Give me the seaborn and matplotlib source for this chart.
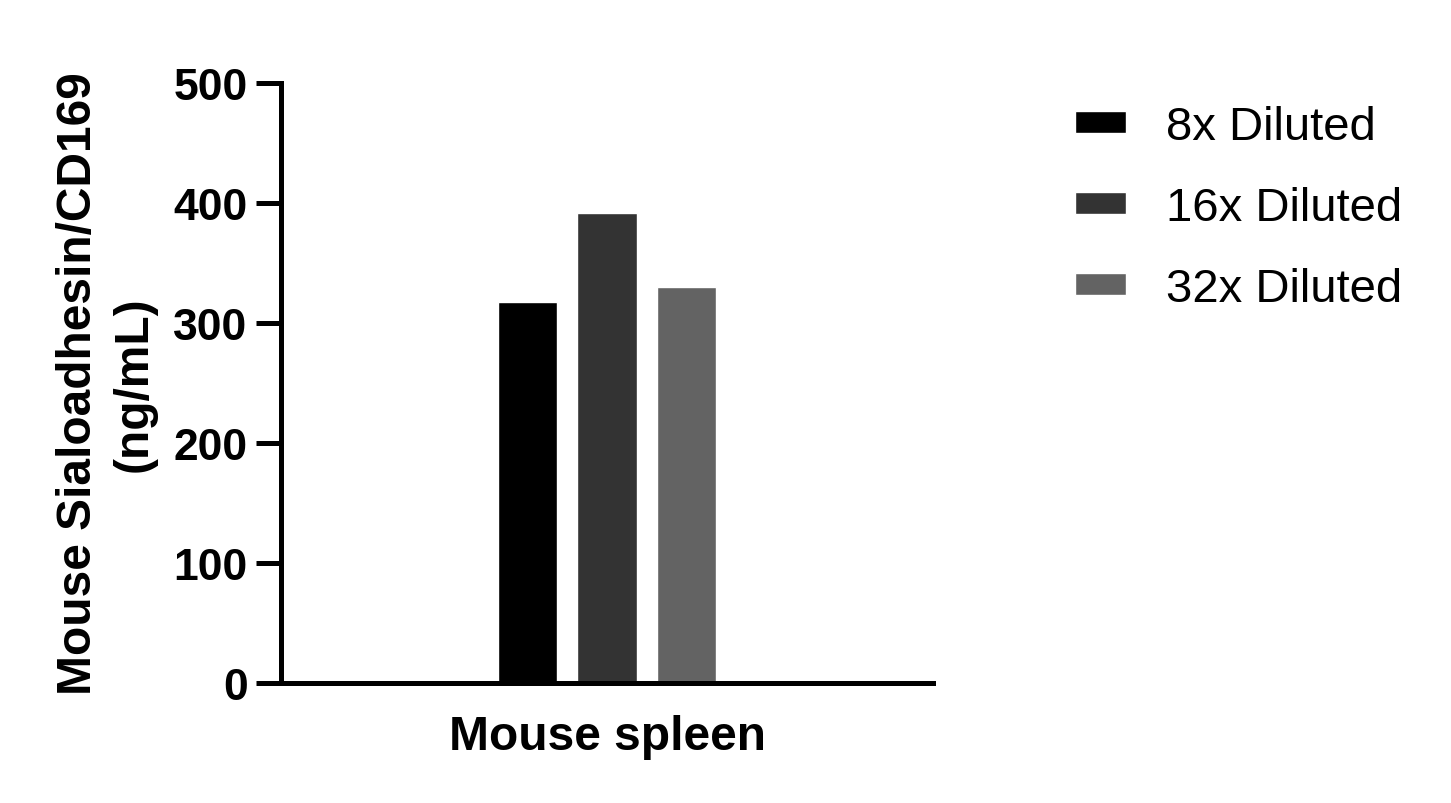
import matplotlib
matplotlib.use("Agg")
import matplotlib.pyplot as plt
import pandas as pd
import seaborn as sns

sns.set_theme(style="ticks")
plt.rcParams["font.family"] = ["Liberation Sans", "DejaVu Sans"]
plt.rcParams.update({
    "text.color": "black",
    "axes.labelcolor": "black",
    "xtick.color": "black",
    "ytick.color": "black",
})

# podaci ocitani sa slike
uzorci = ["Mouse spleen"]
razrjedenja = ["8x Diluted", "16x Diluted", "32x Diluted"]
vrijednosti = [317.5, 391.5, 330.0]
boje = ["#000000", "#333333", "#636363"]

df = pd.DataFrame({
    "uzorak": uzorci * len(razrjedenja),
    "razrjedenje": razrjedenja,
    "vrijednost": vrijednosti,
})

fig = plt.figure(figsize=(14.51, 8.04), dpi=100)
ax = fig.add_axes([0.1937, 0.1493, 0.4493, 0.7462])

sns.barplot(data=df, x="uzorak", y="vrijednost", hue="razrjedenje",
            hue_order=razrjedenja, palette=boje, width=0.366, gap=0.25,
            saturation=1, errorbar=None, ax=ax, legend=True)

ax.set_ylim(0, 500)
ax.set_xlim(-0.5, 0.5)
ax.set_yticks([0, 100, 200, 300, 400, 500])
ax.set_xlabel("")
ax.set_ylabel("Mouse Sialoadhesin/CD169\n(ng/mL)", fontsize=34.5,
              fontweight="bold", linespacing=1.3, labelpad=12)

for s in ["top", "right"]:
    ax.spines[s].set_visible(False)
for s in ["left", "bottom"]:
    ax.spines[s].set_linewidth(3.6)
    ax.spines[s].set_color("black")

ax.tick_params(axis="y", length=18, width=3.6, pad=6, labelsize=32)
ax.tick_params(axis="x", length=0, pad=22, labelsize=34.5)
for t in ax.get_yticklabels() + ax.get_xticklabels():
    t.set_fontweight("bold")

rucke, oznake = ax.get_legend_handles_labels()
ax.get_legend().remove()
fig.legend(rucke, oznake, loc="upper left", bbox_to_anchor=(0.741, 0.868),
           frameon=False, fontsize=34, handlelength=1.08, handleheight=0.33,
           handletextpad=0.85, labelspacing=0.78, borderpad=0,
           borderaxespad=0)

fig.savefig("out.png", dpi=100)
